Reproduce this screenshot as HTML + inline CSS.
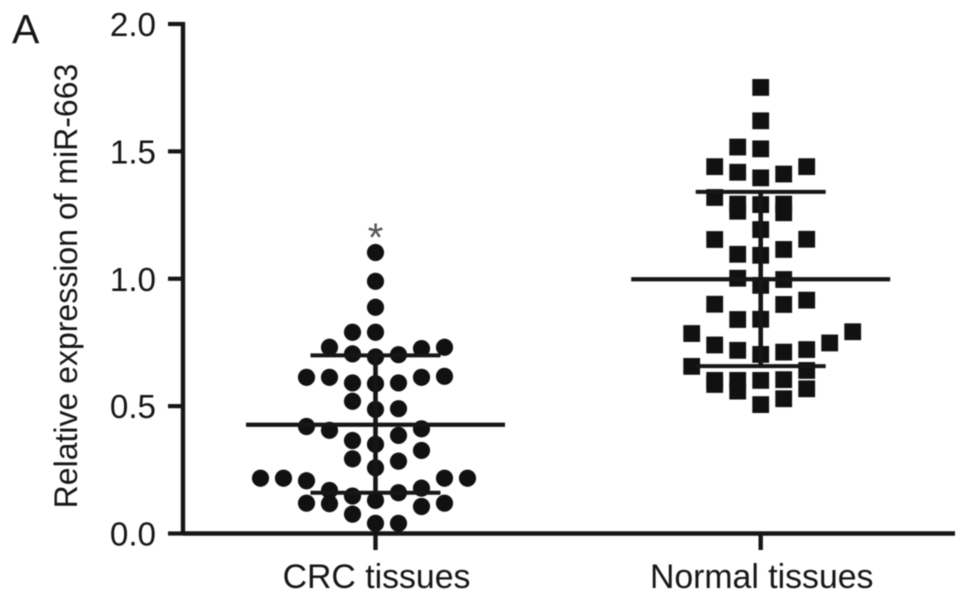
<!DOCTYPE html>
<html lang="en">
<head>
<meta charset="utf-8">
<title>Relative expression of miR-663</title>
<style>
html,body{margin:0;padding:0;background:#fff;}
svg{display:block;}
text{font-family:"Liberation Sans",sans-serif;fill:#161616;}
#plot-root{filter:blur(0.55px);}
</style>
</head>
<body>
<svg id="chart" xmlns="http://www.w3.org/2000/svg" width="969" height="601" viewBox="0 0 969 601">
  <g id="plot-root"></g>
</svg>
<script>
const categories = ['CRC tissues', 'Normal tissues'];
const yTickValues = [0, 0.5, 1, 1.5, 2];
const yTickLabels = ['0.0', '0.5', '1.0', '1.5', '2.0'];
const crcValues = [1.103,0.990,0.888,0.790,0.790,0.731,0.705,0.693,0.702,0.726,0.731,0.613,0.613,0.591,0.588,0.591,0.613,0.617,0.519,0.487,0.490,0.420,0.405,0.411,0.385,0.365,0.350,0.326,0.293,0.284,0.258,0.217,0.217,0.207,0.217,0.217,0.169,0.178,0.160,0.147,0.130,0.119,0.117,0.119,0.106,0.076,0.040,0.040];
const crcSwarmSlots = [0,0,0,-1,0,-2,-1,0,1,2,3,-3,-2,-1,0,1,2,3,-1,0,1,-3,-2,2,1,-1,0,2,-1,1,0,-5,-4,-3,3,4,-2,2,1,-1,0,-3,-2,3,2,-1,0,1];
const normalValues = [1.751,1.620,1.517,1.510,1.440,1.440,1.418,1.396,1.411,1.319,1.293,1.265,1.291,1.293,1.259,1.193,1.154,1.155,1.096,1.092,1.115,1.002,0.997,0.974,0.900,0.916,0.899,0.840,0.841,0.785,0.792,0.748,0.740,0.719,0.703,0.712,0.722,0.656,0.640,0.601,0.585,0.601,0.559,0.601,0.604,0.568,0.529,0.506];
const normalSwarmSlots = [0,0,-1,0,-2,2,-1,0,1,-2,-1,-1,0,1,1,0,-2,2,-1,0,1,-1,1,0,-2,2,1,-1,0,-3,4,3,-2,-1,0,1,2,-3,2,-2,-2,-1,-1,0,1,2,1,0];
const crcSummary = [0.427, 0.699, 0.160];
const normalSummary = [0.998, 1.341, 0.657];

const root = document.getElementById('plot-root');
const NS = 'http://www.w3.org/2000/svg';
const Y0 = 533.5, YTOP = 24, YMAX = 2, AXIS_X = 183, AXIS_END = 955;
const CAT_X = [375.5, 760.7], SLOT = 23, INK = '#161616';

function yScale(v) { return Y0 - (v / YMAX) * (Y0 - YTOP); }
function xScale(catIndex, slot) { return CAT_X[catIndex] + slot * SLOT; }

function shape(tag, attrs) {
  const el = document.createElementNS(NS, tag);
  for (const k in attrs) el.setAttribute(k, attrs[k]);
  root.appendChild(el);
  return el;
}
function rule(x1, y1, x2, y2, w) {
  return shape('line', { x1: x1, y1: y1, x2: x2, y2: y2, stroke: INK, 'stroke-width': w });
}
function label(str, x, y, size, anchor) {
  const el = shape('text', { x: x, y: y, 'font-size': size, 'text-anchor': anchor });
  el.textContent = str;
  return el;
}

// Points
crcValues.forEach(function (v, i) {
  const c = shape('circle', { cx: xScale(0, crcSwarmSlots[i]), cy: yScale(v), r: 8.6, fill: '#111' });
  
  
});
normalValues.forEach(function (v, i) {
  const cx = xScale(1, normalSwarmSlots[i]), cy = yScale(v);
  const r = shape('rect', { x: cx - 8.4, y: cy - 8.4, width: 16.8, height: 16.8, fill: '#111' });
  
  
});

// Mean and SD bars
[crcSummary, normalSummary].forEach(function (s, i) {
  const cx = CAT_X[i];
  const meanLine = rule(cx - 129.5, yScale(s[0]), cx + 129.5, yScale(s[0]), 4.2);
  
  
  const upper = rule(cx - 65, yScale(s[1]), cx + 65, yScale(s[1]), 4);
  
  
  const lower = rule(cx - 65, yScale(s[2]), cx + 65, yScale(s[2]), 4);
  
  
  const stem = rule(cx, yScale(s[1]), cx, yScale(s[2]), 4.6);
  
  
});

// Axes
const yAxis = rule(AXIS_X, YTOP - 2, AXIS_X, Y0 + 2, 4.4);


const xAxis = rule(AXIS_X, Y0, AXIS_END, Y0, 4.4);



yTickValues.forEach(function (v, i) {
  const t = rule(168, yScale(v), AXIS_X, yScale(v), 4.2);
  
  
  const l = label(yTickLabels[i], 156, yScale(v) + 12, 33.2, 'end');
  
  
});
categories.forEach(function (c, i) {
  const t = rule(CAT_X[i], Y0, CAT_X[i], 550, 4.4);
  
  
  const l = label(c, CAT_X[i] + 1, 588, 33.8, 'middle');
  
  
});

const yTitle = label('Relative expression of miR-663', 0, 0, 32, 'middle');
yTitle.setAttribute('transform', 'translate(77 286) rotate(-90)');



const panel = label('A', 12, 43, 41, 'start');



const star = label('*', 375.5, 251, 40, 'middle');
star.style.fill = '#555';


</script>
</body>
</html>
